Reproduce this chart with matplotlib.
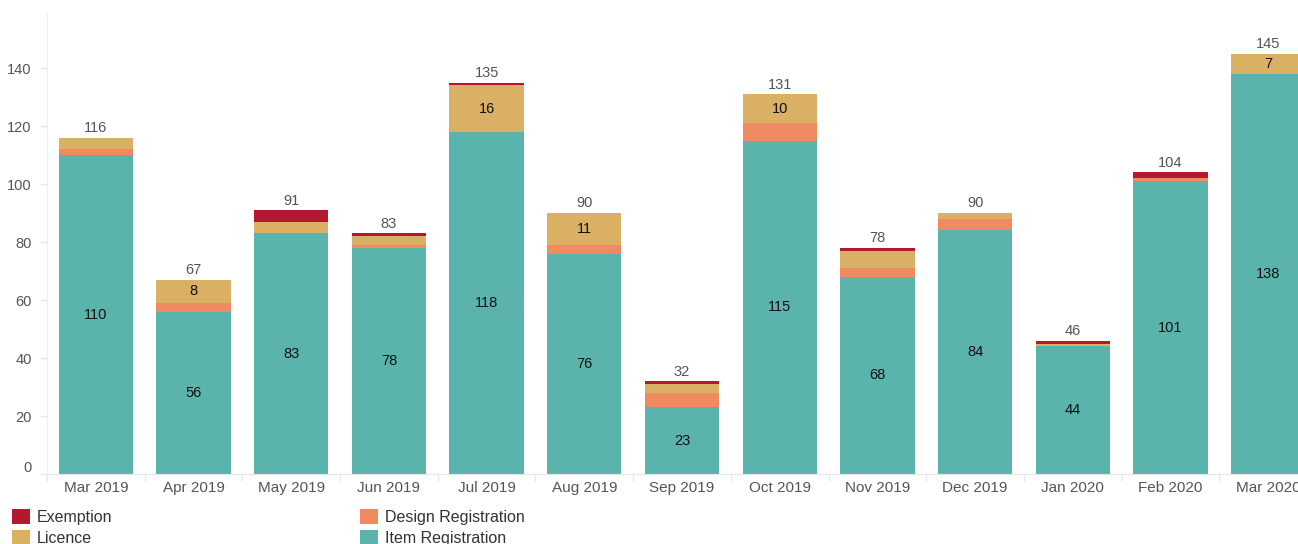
import matplotlib
matplotlib.use("Agg")
import matplotlib.pyplot as plt
import matplotlib.transforms as mtransforms
from matplotlib.patches import Patch
import numpy as np

plt.rcParams['font.family'] = ['Liberation Sans', 'DejaVu Sans']

months = ["Mar 2019", "Apr 2019", "May 2019", "Jun 2019", "Jul 2019", "Aug 2019",
          "Sep 2019", "Oct 2019", "Nov 2019", "Dec 2019", "Jan 2020", "Feb 2020", "Mar 2020"]
item_registration = [110, 56, 83, 78, 118, 76, 23, 115, 68, 84, 44, 101, 138]
design_registration = [2, 3, 0, 1, 0, 3, 5, 6, 3, 4, 0, 1, 0]
licence = [4, 8, 4, 3, 16, 11, 3, 10, 6, 2, 1, 0, 7]
exemption = [0, 0, 4, 1, 1, 0, 1, 0, 1, 0, 1, 2, 0]

series = [
    ("Item Registration", item_registration, "#5AB4AB"),
    ("Design Registration", design_registration, "#F08A61"),
    ("Licence", licence, "#D9B064"),
    ("Exemption", exemption, "#B3182E"),
]

W, H = 1298, 544
fig = plt.figure(figsize=(W / 100, H / 100), dpi=100)
ax = fig.add_axes([47 / W, (H - 474) / H, (1317 - 47) / W, (474 - 13) / H])

x = np.arange(len(months))
bottom = np.zeros(len(months))
for name, vals, col in series:
    vals = np.array(vals, dtype=float)
    ax.bar(x, vals, width=0.76, bottom=bottom, color=col, edgecolor='none', label=name, zorder=2)
    for xi, v, b in zip(x, vals, bottom):
        if v >= 7:
            ax.text(xi, b + v / 2, f"{int(v)}", ha='center', va='center', fontsize=10.5, color='#111111', zorder=3)
    bottom += vals

for xi, t in zip(x, bottom):
    ax.text(xi, t + 0.9, f"{int(t)}", ha='center', va='bottom', fontsize=10.5, color='#555555', zorder=3)

ax.set_xlim(-0.5, len(months) - 0.5)
ax.set_ylim(0, 159)
ax.set_yticks(np.arange(0, 141, 20))
ax.set_xticks(x)
ax.set_xticklabels(months)
ax.set_xticks(np.arange(-0.5, len(months), 1), minor=True)
ax.tick_params(axis='x', which='major', length=0, pad=5, labelsize=11, labelcolor='#555555')
ax.tick_params(axis='x', which='minor', length=5, color='#E6E6E6', width=1)
ax.tick_params(axis='y', length=5, color='#E6E6E6', width=1, pad=6, labelsize=10.5, labelcolor='#555555')

# shift the "0" label upward slightly as in the reference
lbl0 = ax.get_yticklabels()[0]
lbl0.set_transform(lbl0.get_transform() + mtransforms.ScaledTranslation(0, 7 / 100, fig.dpi_scale_trans))

for s in ['top', 'right']:
    ax.spines[s].set_visible(False)
ax.spines['left'].set_color('#EEEEEE')
ax.spines['bottom'].set_color('#E6E6E6')
ax.spines['bottom'].set_linestyle((0, (2, 1)))

handles = {name: Patch(facecolor=col, edgecolor='none') for name, _, col in series}
common = dict(frameon=False, fontsize=11.5, handlelength=1.1, handleheight=1.05,
              handletextpad=0.45, labelspacing=0.33, borderpad=0, borderaxespad=0,
              loc='upper left', labelcolor='#333333')
leg1 = fig.legend([handles["Exemption"], handles["Licence"]], ["Exemption", "Licence"],
                  bbox_to_anchor=(12 / W, (H - 509) / H), **common)
leg2 = fig.legend([handles["Design Registration"], handles["Item Registration"]],
                  ["Design Registration", "Item Registration"],
                  bbox_to_anchor=(360 / W, (H - 509) / H), **common)

fig.savefig("out.png", dpi=100)
